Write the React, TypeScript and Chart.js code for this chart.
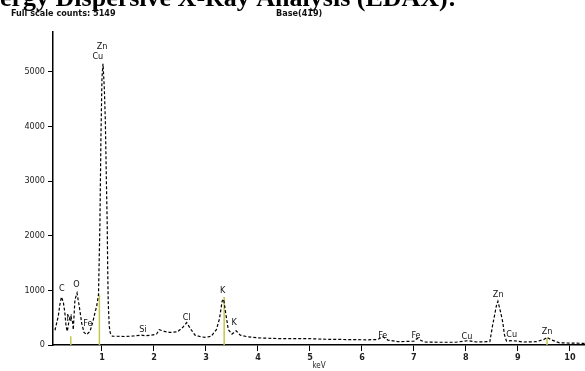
import React, { useEffect, useRef } from "react";
import { Chart, registerables } from "chart.js";

Chart.register(...registerables);

// Spectrum (energy in keV, counts)
const KEV = [
  0.096, 0.16, 0.19, 0.22, 0.256, 0.285, 0.31, 0.333, 0.371, 0.398, 0.437, 0.448,
  0.48, 0.52, 0.563, 0.59, 0.61, 0.654, 0.706, 0.769, 0.821, 0.865, 0.898, 0.933,
  0.96, 0.98, 1.0, 1.02, 1.045, 1.065, 1.085, 1.1, 1.11, 1.12, 1.14, 1.16, 1.2,
  1.3, 1.45, 1.6, 1.75, 1.85, 1.95, 2.05, 2.1, 2.2, 2.3, 2.45, 2.55, 2.63, 2.7, 2.79,
  2.9, 3.0, 3.1, 3.2, 3.26, 3.31, 3.34, 3.38, 3.43, 3.5, 3.58, 3.66, 3.8, 4.0, 4.3,
  4.6, 5.0, 5.3, 5.7, 6.1, 6.3, 6.4, 6.5, 6.7, 7.0, 7.06, 7.2, 7.5, 7.8, 8.05, 8.2,
  8.4, 8.46, 8.51, 8.56, 8.59, 8.615, 8.67, 8.71, 8.74, 8.78, 8.9, 9.1, 9.35, 9.5,
  9.56, 9.65, 9.8, 10.0, 10.29,
];
const COUNTS = [
  270, 530, 740, 880, 790, 600, 340, 250, 470, 530, 410, 280,
  830, 950, 710, 530, 400, 230, 190, 250, 410, 590, 710, 920,
  2200, 3800, 4900, 5149, 4700, 4100, 3000, 2250, 1400, 780, 340, 220, 160,
  160, 155, 165, 180, 170, 180, 200, 280, 250, 230, 240, 320, 410, 300, 180,
  150, 140, 160, 280, 480, 800, 840, 580, 280, 200, 260, 180, 150, 130, 120,
  115, 115, 105, 100, 95, 100, 150, 90, 60, 70, 120, 55, 50, 50, 80, 55,
  60, 60, 345, 590, 740, 800, 590, 410, 190, 70, 80, 55, 60, 100,
  140, 90, 40, 35, 30,
];

// Element marker lines (yellow)
const MARKER_KEV = [0.4, 0.95, 3.35, 9.56];
const MARKER_COUNTS = [160, 925, 880, 135];

// Element labels
const LABEL_TEXT = ["C", "N", "O", "Fe", "Zn", "Cu", "Si", "Cl", "K", "K", "Fe", "Fe", "Cu", "Zn", "Cu", "Zn"];
const LABEL_KEV = [0.23, 0.37, 0.51, 0.73, 1.0, 0.92, 1.79, 2.63, 3.32, 3.54, 6.4, 7.04, 8.02, 8.62, 8.88, 9.56];
const LABEL_COUNTS = [1035, 490, 1110, 395, 5470, 5280, 280, 505, 1000, 410, 175, 175, 155, 925, 190, 250];

const X_TICKS = [1, 2, 3, 4, 5, 6, 7, 8, 9, 10];
const Y_TICKS = [0, 1000, 2000, 3000, 4000, 5000];

const TITLE = "ergy Dispersive X-Ray Analysis (EDAX):";
const FULL_SCALE = "Full scale counts: 5149";
const BASE = "Base(419)";
const X_TITLE = "keV";

const NARROW = '"Liberation Sans Narrow", "DejaVu Sans Condensed", "Liberation Sans", Arial, sans-serif';
const SERIF = '"Liberation Serif", "Times New Roman", serif';

const overlayPlugin = {
  id: "edaxOverlay",
  beforeDatasetsDraw(chart: any) {
    const { ctx, scales } = chart;
    const xs = scales.x;
    const ys = scales.y;
    ctx.save();
    ctx.strokeStyle = "#c9c54a";
    ctx.lineWidth = 1.5;
    MARKER_KEV.forEach((k, i) => {
      const px = xs.getPixelForValue(k);
      ctx.beginPath();
      ctx.moveTo(px, ys.getPixelForValue(0));
      ctx.lineTo(px, ys.getPixelForValue(MARKER_COUNTS[i]));
      ctx.stroke();
    });
    ctx.restore();
  },
  afterDatasetsDraw(chart: any) {
    const { ctx, scales } = chart;
    const xs = scales.x;
    const ys = scales.y;
    ctx.save();
    ctx.fillStyle = "#111";
    ctx.font = `9px ${NARROW}`;
    ctx.textAlign = "center";
    ctx.textBaseline = "middle";
    LABEL_TEXT.forEach((t, i) => {
      ctx.fillText(t, xs.getPixelForValue(LABEL_KEV[i]), ys.getPixelForValue(LABEL_COUNTS[i]));
    });
    ctx.restore();
  },
  afterDraw(chart: any) {
    const { ctx } = chart;
    ctx.save();
    ctx.fillStyle = "#000";
    ctx.textAlign = "left";
    ctx.textBaseline = "alphabetic";
    ctx.font = `bold 26px ${SERIF}`;
    ctx.fillText(TITLE, 0, 6);
    ctx.textBaseline = "middle";
    ctx.font = `bold 9px ${NARROW}`;
    ctx.fillStyle = "#111";
    ctx.fillText(FULL_SCALE, 11, 14);
    ctx.fillText(BASE, 276, 14);
    ctx.restore();
  },
};

export default function App() {
  const ref = useRef<HTMLCanvasElement | null>(null);
  useEffect(() => {
    if (!ref.current) return;
    const chart = new Chart(ref.current, {
      type: "line",
      data: {
        datasets: [
          {
            data: KEV.map((x, i) => ({ x, y: COUNTS[i] })),
            borderColor: "#000",
            borderWidth: 1.2,
            borderDash: [3, 2],
            pointRadius: 0,
            tension: 0,
            fill: false,
          },
        ],
      },
      options: {
        responsive: false,
        animation: false,
        layout: { padding: { top: 32, left: 0, right: 0, bottom: 0 } },
        plugins: { legend: { display: false }, tooltip: { enabled: false } },
        scales: {
          x: {
            type: "linear",
            min: 0.058,
            max: 10.29,
            afterBuildTicks: (s: any) => {
              s.ticks = X_TICKS.map((v) => ({ value: v }));
            },
            afterFit: (s: any) => {
              s.height = 26;
              s.paddingLeft = 0;
              s.paddingRight = 0;
            },
            grid: { display: true, drawOnChartArea: false, drawTicks: true, tickLength: 6, color: "#000", lineWidth: 1 },
            border: { display: true, color: "#000", width: 1.5 },
            ticks: {
              font: { family: NARROW, size: 9, weight: "bold" },
              color: "#222",
              padding: 1,
              maxRotation: 0,
              autoSkip: false,
              callback: (v: any) => String(v),
            },
            title: {
              display: true,
              text: X_TITLE,
              font: { family: NARROW, size: 8 },
              color: "#222",
              padding: { top: 0, bottom: 0 },
            },
          },
          y: {
            type: "linear",
            min: 0,
            max: 5730,
            afterBuildTicks: (s: any) => {
              s.ticks = Y_TICKS.map((v) => ({ value: v }));
            },
            afterFit: (s: any) => {
              s.width = 53;
              s.paddingTop = 0;
              s.paddingBottom = 0;
            },
            grid: { display: true, drawOnChartArea: false, drawTicks: true, tickLength: 5, color: "#000", lineWidth: 1 },
            border: { display: true, color: "#000", width: 1.5 },
            ticks: {
              font: { family: NARROW, size: 9 },
              color: "#222",
              padding: 3,
              autoSkip: false,
              callback: (v: any) => String(v),
            },
          },
        },
      },
      plugins: [overlayPlugin],
    } as any);
    return () => chart.destroy();
  }, []);

  return (
    <div style={{ position: "fixed", left: 0, top: 0, width: 585, height: 371, background: "#fff", overflow: "hidden" }}>
      <canvas ref={ref} width={585} height={371} style={{ display: "block", width: 585, height: 371 }} />
    </div>
  );
}
